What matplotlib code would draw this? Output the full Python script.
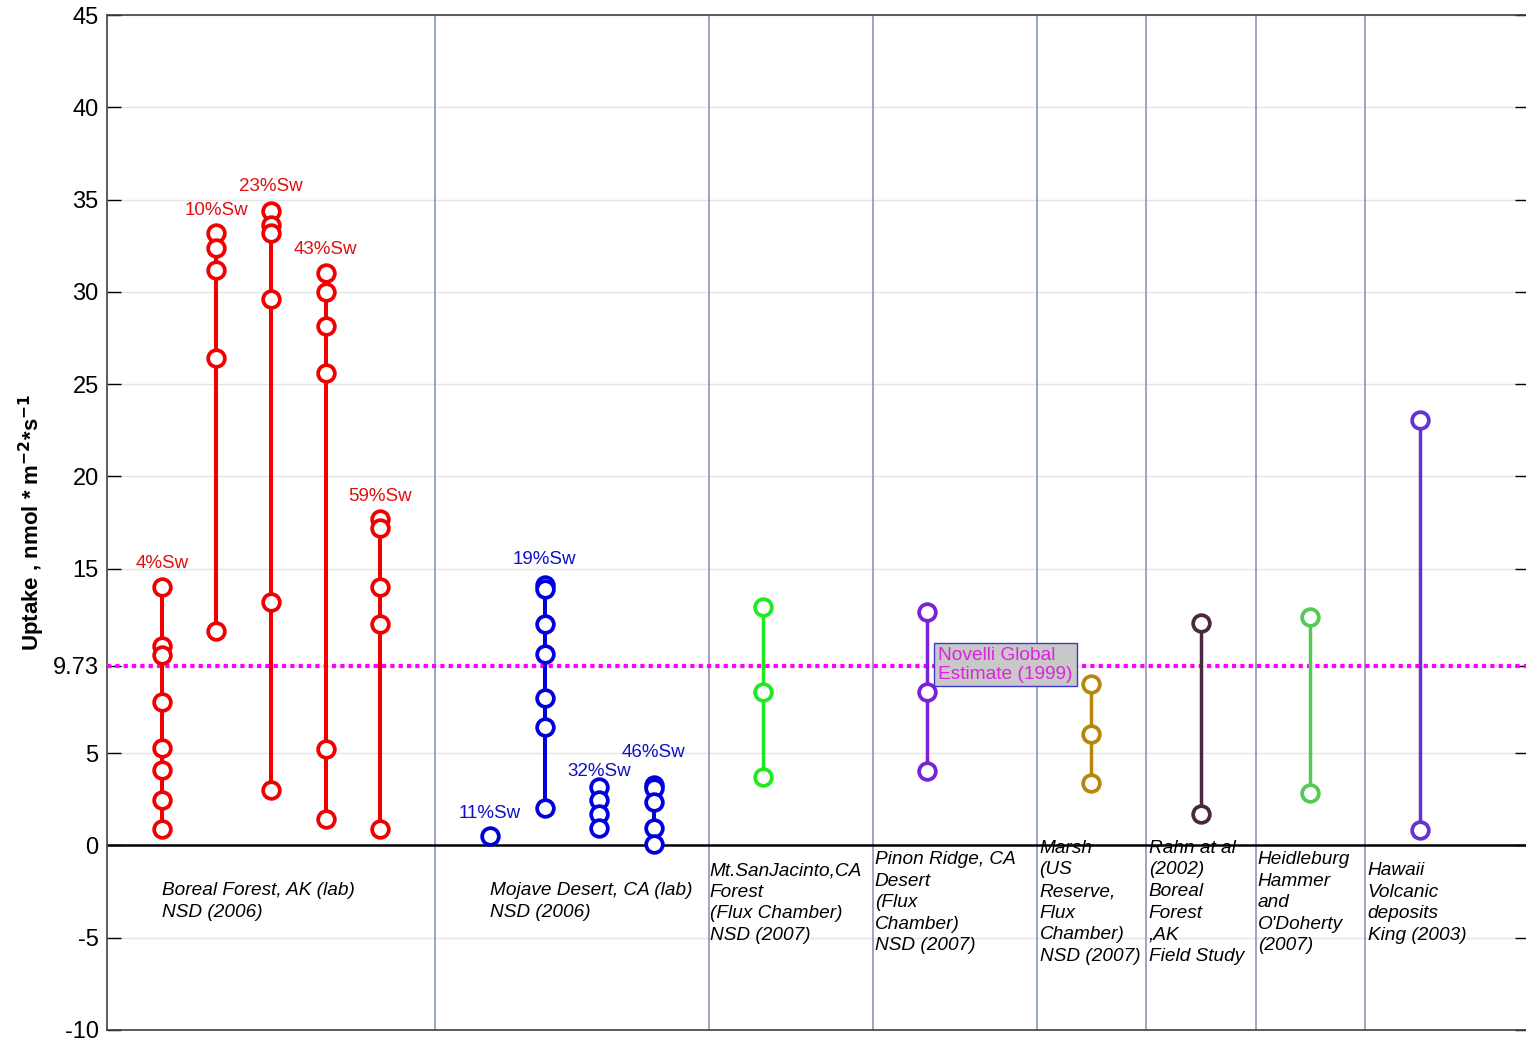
import matplotlib
matplotlib.use("Agg")
import matplotlib.pyplot as plt
import numpy as np

plt.rcParams['font.family'] = ['Liberation Sans', 'DejaVu Sans']

# lab series: Boreal Forest (red) and Mojave Desert (blue), one column per soil moisture
boreal_x = [1, 2, 3, 4, 5]
boreal_sw = ["4%Sw", "10%Sw", "23%Sw", "43%Sw", "59%Sw"]
boreal_label_y = [15.3, 34.4, 35.7, 32.3, 18.9]
boreal_vals = [
    [13.98, 10.8, 10.3, 7.8, 5.26, 4.07, 2.44, 0.87],
    [33.17, 32.36, 31.17, 26.4, 11.6],
    [34.4, 33.6, 33.2, 29.6, 13.2, 3.0],
    [31.0, 29.97, 28.15, 25.58, 5.22, 1.43],
    [17.7, 17.2, 14.0, 12.0, 0.87],
]

mojave_x = [7, 8, 9, 10]
mojave_sw = ["11%Sw", "19%Sw", "32%Sw", "46%Sw"]
mojave_label_y = [1.75, 15.5, 4.0, 5.05]
mojave_vals = [
    [0.49],
    [14.1, 13.9, 11.98, 10.4, 7.97, 6.43, 2.04],
    [3.18, 2.46, 1.68, 0.96],
    [3.25, 3.1, 2.37, 0.92, 0.1],
]

# field studies
field_x = [12, 15, 18, 20, 22, 24]
field_vals = [
    [12.9, 8.33, 3.72],
    [12.63, 8.33, 4.05],
    [8.73, 6.03, 3.36],
    [12.03, 1.73],
    [12.4, 2.82],
    [23.05, 0.83],
]
field_colors = ["#22e822", "#7a22d8", "#b8860b", "#4a2840", "#55c855", "#6433d0"]

novelli = 9.73
separators = [6, 11, 14, 17, 19, 21, 23]

site_x = [1, 7, 11.02, 14.04, 17.05, 19.05, 21.04, 23.05]
site_y = [-2.0, -2.0, -0.9, -0.3, 0.3, 0.3, -0.3, -0.9]
site_labels = [
    "Boreal Forest, AK (lab)\nNSD (2006)",
    "Mojave Desert, CA (lab)\nNSD (2006)",
    "Mt.SanJacinto,CA\nForest\n(Flux Chamber)\nNSD (2007)",
    "Pinon Ridge, CA\nDesert\n(Flux\nChamber)\nNSD (2007)",
    "Marsh\n(US\nReserve,\nFlux\nChamber)\nNSD (2007)",
    "Rahn at al\n(2002)\nBoreal\nForest\n,AK\nField Study",
    "Heidleburg\nHammer\nand\nO'Doherty\n(2007)",
    "Hawaii\nVolcanic\ndeposits\nKing (2003)",
]

yticks = [-10, -5, 0, 5, novelli, 15, 20, 25, 30, 35, 40, 45]

fig = plt.figure(figsize=(15.26, 10.42), dpi=100)
ax = fig.add_axes([107 / 1526, 12 / 1042, 1422 / 1526, 1015 / 1042])

for y in yticks:
    ax.axhline(y, color="#e4e4e4", lw=1, zorder=0)
for s in separators:
    ax.axvline(s, color="#8090b0", lw=1.1, zorder=1)
ax.axhline(0, color="black", lw=1.8, zorder=2)
ax.axhline(novelli, color="#ff00ff", lw=3, ls=(0, (1, 1)), zorder=3)


def draw_column(x, vals, color, lw=2.9):
    ax.plot([x] * len(vals), vals, "-o", color=color, lw=lw, ms=12,
            mfc="white", mec=color, mew=2.7, zorder=4)


for x, vals, lab, ly in zip(boreal_x, boreal_vals, boreal_sw, boreal_label_y):
    draw_column(x, vals, "#f00000")
    ax.text(x, ly, lab, color="#e01010", fontsize=13.5, ha="center", va="center")

for x, vals, lab, ly in zip(mojave_x, mojave_vals, mojave_sw, mojave_label_y):
    draw_column(x, vals, "#0000dd")
    ax.text(x, ly, lab, color="#1010c8", fontsize=13.5, ha="center", va="center")

for x, vals, c in zip(field_x, field_vals, field_colors):
    draw_column(x, vals, c, lw=2.5)

ax.text(15.2, 9.8, "Novelli Global\nEstimate (1999)", color="#e020e0",
        fontsize=13.8, ha="left", va="center", linespacing=1.15, zorder=6,
        bbox=dict(boxstyle="square,pad=0.2", fc="#c8c8c8", ec="#3a3ad0", lw=1))

for x, y, lab in zip(site_x, site_y, site_labels):
    ax.text(x, y, lab, fontsize=13.7, style="italic", ha="left", va="top",
            linespacing=1.35, zorder=5)

ax.set_xlim(0, 26)
ax.set_ylim(-10, 45)
ax.set_xticks([])
ax.set_yticks(yticks)
ax.set_yticklabels(["-10", "-5", "0", "5", "9.73", "15", "20", "25", "30", "35", "40", "45"])
ax.tick_params(axis="y", direction="in", length=10, width=1, labelsize=17,
               right=True, pad=6)
for sp in ax.spines.values():
    sp.set_color("#404040")
    sp.set_linewidth(1.2)

ax.set_ylabel(r"Uptake , nmol * m$^{\mathbf{-2}}$*s$^{\mathbf{-1}}$",
              fontsize=16, fontweight="bold", labelpad=4)

fig.savefig("out.png", dpi=100)
